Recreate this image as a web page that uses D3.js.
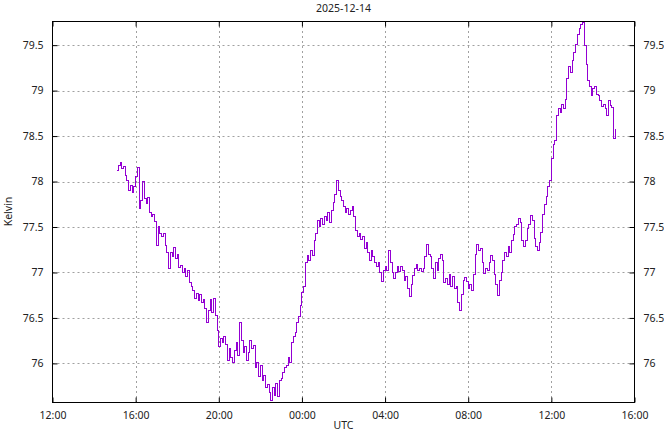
<!DOCTYPE html>
<html>
<head>
<meta charset="utf-8">
<script src="https://d3js.org/d3.v7.min.js"></script>
<style>
  body { margin: 0; background: #fff; }
  text { font-family: "Noto Sans", sans-serif; font-size: 10.5px; fill: #222; }
</style>
</head>
<body>
<svg width="664" height="432"></svg>
<script>
const title = "2025-12-14";
const xLabel = "UTC";
const yLabel = "Kelvin";

// samples every 5 minutes, starting at this time
const startTime = "2025-12-13T15:05:00Z";
const stepMinutes = 5;
const kelvin = [
  78.12, 78.18, 78.21, 78.14, 78.17, 78.07, 78.01, 77.90, 77.96, 77.88,
  77.94, 78.06, 78.15, 77.70, 77.79, 78.00, 77.81, 77.76, 77.82, 77.66,
  77.62, 77.64, 77.56, 77.30, 77.51, 77.43, 77.40, 77.43, 77.30, 77.22,
  77.04, 77.22, 77.18, 77.28, 77.15, 77.20, 77.06, 77.08, 77.00, 77.04,
  76.96, 77.02, 76.89, 76.85, 76.80, 76.71, 76.77, 76.69, 76.76, 76.67,
  76.70, 76.60, 76.45, 76.58, 76.70, 76.56, 76.71, 76.53, 76.36, 76.19,
  76.27, 76.23, 76.30, 76.21, 76.03, 76.16, 76.07, 76.01, 76.14, 76.23,
  76.09, 76.45, 76.25, 76.12, 76.19, 76.03, 76.12, 76.25, 76.16, 76.20,
  75.95, 76.01, 75.86, 75.98, 75.81, 75.87, 75.73, 75.77, 75.68, 75.59,
  75.73, 75.65, 75.78, 75.64, 75.81, 75.83, 75.90, 75.95, 75.98, 76.06,
  76.01, 76.23, 76.30, 76.34, 76.45, 76.52, 76.64, 76.78, 76.85, 77.11,
  77.19, 77.13, 77.24, 77.19, 77.35, 77.43, 77.57, 77.51, 77.59, 77.53,
  77.62, 77.57, 77.66, 77.55, 77.68, 77.77, 77.86, 78.01, 77.90, 77.84,
  77.79, 77.73, 77.66, 77.70, 77.64, 77.68, 77.73, 77.62, 77.46, 77.40,
  77.43, 77.36, 77.40, 77.26, 77.33, 77.22, 77.13, 77.24, 77.18, 77.11,
  77.07, 77.11, 77.00, 76.90, 77.02, 77.07, 77.02, 77.24, 77.11, 77.00,
  76.93, 77.00, 77.07, 77.01, 77.07, 77.02, 76.91, 76.96, 76.82, 76.74,
  76.87, 76.97, 77.04, 77.09, 77.02, 77.04, 77.01, 77.04, 77.18, 77.31,
  77.20, 77.18, 77.04, 76.93, 77.11, 77.02, 77.15, 77.20, 77.13, 76.89,
  76.93, 76.87, 76.98, 76.85, 76.96, 76.82, 76.85, 76.67, 76.58, 76.76,
  76.91, 76.95, 76.90, 76.82, 76.87, 76.80, 76.98, 77.20, 77.31, 77.24,
  77.26, 77.11, 76.99, 77.04, 77.02, 77.11, 77.19, 77.13, 76.98, 76.87,
  76.75, 76.91, 77.00, 77.13, 77.22, 77.18, 77.29, 77.22, 77.35, 77.42,
  77.51, 77.53, 77.59, 77.55, 77.35, 77.29, 77.35, 77.48, 77.53, 77.63,
  77.57, 77.37, 77.29, 77.24, 77.33, 77.44, 77.64, 77.75, 77.84, 77.95,
  78.01, 78.25, 78.41, 78.45, 78.73, 78.80, 78.76, 78.85, 78.80, 78.90,
  79.13, 79.26, 79.20, 79.33, 79.42, 79.51, 79.62, 79.68, 79.73, 79.75,
  79.50, 79.29, 79.11, 79.04, 78.95, 79.02, 79.05, 78.96, 78.95, 78.89,
  78.82, 78.85, 78.80, 78.73, 78.89, 78.84, 78.81, 78.47, 78.58
];

const xDomain = ["2025-12-13T12:00:00Z", "2025-12-14T16:00:00Z"];
const xTicks = ["2025-12-13T12:00:00Z", "2025-12-13T16:00:00Z", "2025-12-13T20:00:00Z",
                "2025-12-14T00:00:00Z", "2025-12-14T04:00:00Z", "2025-12-14T08:00:00Z",
                "2025-12-14T12:00:00Z", "2025-12-14T16:00:00Z"];
const yDomain = [75.57, 79.76];
const yTicks = [76, 76.5, 77, 77.5, 78, 78.5, 79, 79.5];

const W = 664, H = 432;
const m = { top: 21, right: 29.5, bottom: 30, left: 52.5 };

const svg = d3.select("svg");
const start = new Date(startTime);
const data = kelvin.map((k, i) => ({ t: new Date(+start + i * stepMinutes * 60000), k: k }));

const x = d3.scaleUtc()
  .domain(xDomain.map(d => new Date(d)))
  .range([m.left, W - m.right]);
const y = d3.scaleLinear()
  .domain(yDomain)
  .range([H - m.bottom + 0.5, m.top + 0.5]);

const fmt = d3.utcFormat("%H:%M");
const tickDates = xTicks.map(d => new Date(d));

// grid
const grid = svg.append("g")
  .attr("stroke", "#a0a0a0")
  .attr("stroke-width", 1)
  .attr("stroke-dasharray", "2,3");
grid.selectAll(".gx").data(tickDates.slice(1, -1)).enter().append("line")
  .attr("x1", d => Math.round(x(d)) + 0.5).attr("x2", d => Math.round(x(d)) + 0.5)
  .attr("y1", m.top).attr("y2", H - m.bottom);
grid.selectAll(".gy").data(yTicks).enter().append("line")
  .attr("x1", m.left).attr("x2", W - m.right)
  .attr("y1", d => Math.round(y(d)) + 0.5).attr("y2", d => Math.round(y(d)) + 0.5);

// data line
svg.append("path")
  .datum(data)
  .attr("fill", "none")
  .attr("stroke", "#9400d3")
  .attr("stroke-width", 1)
  .attr("shape-rendering", "crispEdges")
  .attr("d", d3.line().curve(d3.curveStepAfter)
    .x(d => x(d.t)).y(d => y(d.k)));

// axes: gnuplot-style inward ticks on all four sides
const tickLen = 5;
svg.append("g").attr("transform", `translate(0,${H - m.bottom + 0.5})`)
  .call(d3.axisBottom(x).tickValues(tickDates).tickFormat(fmt).tickSizeInner(-tickLen).tickSizeOuter(0).tickPadding(9))
  .call(g => g.select(".domain").remove());
svg.append("g").attr("transform", `translate(0,${m.top + 0.5})`)
  .call(d3.axisTop(x).tickValues(tickDates).tickFormat("").tickSizeInner(-tickLen).tickSizeOuter(0))
  .call(g => g.select(".domain").remove());
svg.append("g").attr("transform", `translate(${m.left},0)`)
  .call(d3.axisLeft(y).tickValues(yTicks).tickFormat(d3.format("")).tickSizeInner(-tickLen).tickSizeOuter(0).tickPadding(9))
  .call(g => g.select(".domain").remove());
svg.append("g").attr("transform", `translate(${W - m.right},0)`)
  .call(d3.axisRight(y).tickValues(yTicks).tickFormat(d3.format("")).tickSizeInner(-tickLen).tickSizeOuter(0).tickPadding(9))
  .call(g => g.select(".domain").remove());
svg.selectAll(".tick text").attr("font-size", null).attr("font-family", null).style("fill", "#222");

// border
svg.append("rect")
  .attr("x", m.left).attr("y", m.top + 0.5)
  .attr("width", W - m.right - m.left).attr("height", H - m.bottom - m.top)
  .attr("fill", "none").attr("stroke", "#000").attr("stroke-width", 1);

// labels
svg.append("text").attr("x", (m.left + W - m.right) / 2).attr("y", 12)
  .attr("text-anchor", "middle").text(title);
svg.append("text").attr("x", (m.left + W - m.right) / 2).attr("y", 429)
  .attr("text-anchor", "middle").text(xLabel);
svg.append("text").attr("transform", `translate(12,${(m.top + H - m.bottom) / 2}) rotate(-90)`)
  .attr("text-anchor", "middle").text(yLabel);
</script>
</body>
</html>
